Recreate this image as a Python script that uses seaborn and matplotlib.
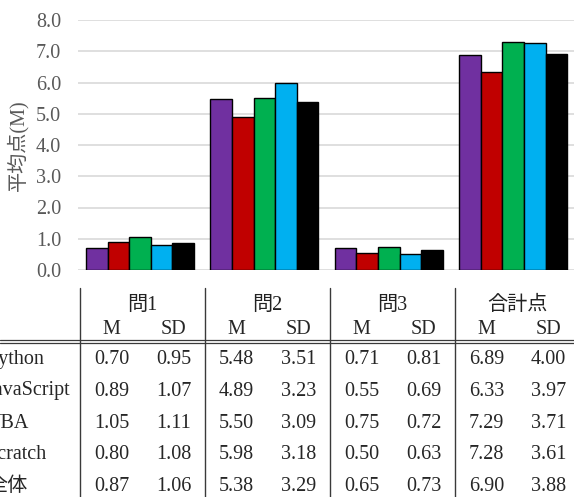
import matplotlib
matplotlib.use("Agg")
import matplotlib.pyplot as plt
import pandas as pd
import seaborn as sns
from matplotlib.lines import Line2D

groups = ['問1', '問2', '問3', '合計点']
langs = ['Python', 'JavaScript', 'VBA', 'Scratch', '全体']
colors = ['#7030A0', '#C00000', '#00B050', '#00B0F0', '#000000']

mean_q1 = [0.70, 0.89, 1.05, 0.80, 0.87]
sd_q1 = [0.95, 1.07, 1.11, 1.08, 1.06]
mean_q2 = [5.48, 4.89, 5.50, 5.98, 5.38]
sd_q2 = [3.51, 3.23, 3.09, 3.18, 3.29]
mean_q3 = [0.71, 0.55, 0.75, 0.50, 0.65]
sd_q3 = [0.81, 0.69, 0.72, 0.63, 0.73]
mean_total = [6.89, 6.33, 7.29, 7.28, 6.90]
sd_total = [4.00, 3.97, 3.71, 3.61, 3.88]

means = [mean_q1, mean_q2, mean_q3, mean_total]
sds = [sd_q1, sd_q2, sd_q3, sd_total]

sns.set_style("white")
plt.rcParams['font.family'] = ['Liberation Serif', 'Noto Sans CJK JP']

W, H = 574, 497
fig = plt.figure(figsize=(W / 100, H / 100), dpi=100)


def fx(x):
    return x / W


def fy(y):
    return 1 - y / H


ax = fig.add_axes([fx(77.75), fy(270), 497.75 / W, 250 / H])

rows = []
for g, vals in zip(groups, means):
    for lang, v in zip(langs, vals):
        rows.append({'group': g, 'lang': lang, 'mean': v})
df = pd.DataFrame(rows)

sns.barplot(data=df, x='group', y='mean', hue='lang', palette=colors,
            saturation=1, width=0.867, gap=0, edgecolor='black', linewidth=1.0,
            legend=False, ax=ax, zorder=3)

ax.set_ylim(0, 8)
ax.set_xlim(-0.5, 3.5)
ax.set_yticks([0, 1, 2, 3, 4, 5, 6, 7, 8])
ax.set_yticklabels([f'{t:.1f}' for t in range(9)], color='#595959', fontsize=14.5)
ax.tick_params(axis='y', length=0, pad=12)
ax.set_xticks([])
ax.set_xlabel('')
ax.yaxis.grid(True, color='#D9D9D9', linewidth=1.2, zorder=0)
ax.set_axisbelow(True)
for s in ax.spines.values():
    s.set_visible(False)
ax.set_ylabel('平均点(M)', color='#595959', fontsize=14.5)
ax.yaxis.set_label_coords((28 - 77.75) / 497.75, 0.5)

# table under the chart
line_x = [79.5, 204.5, 329.5, 454.5]
for x in line_x:
    fig.add_artist(Line2D([fx(x), fx(x)], [fy(288), fy(497)], color='#3a3a3a', linewidth=1.0))
for y in [340, 342.5]:
    fig.add_artist(Line2D([0, 1], [fy(y), fy(y)], color='#3a3a3a', linewidth=0.9))

tsize = 14.5
for x, g in zip(line_x, groups):
    fig.text(fx(x + 63), fy(305), g, ha='center', va='center', fontsize=14.5, color='#222222')
    fig.text(fx(x + 32), fy(330), 'M', ha='center', va='center', fontsize=tsize)
    fig.text(fx(x + 94), fy(330), 'SD', ha='center', va='center', fontsize=tsize)

row_y = [359.5, 391, 423, 454.5, 486.5]
for i, (lang, y) in enumerate(zip(langs, row_y)):
    fig.text(fx(-13), fy(y), lang, ha='left', va='center', fontsize=tsize)
    for x, m, s in zip(line_x, means, sds):
        fig.text(fx(x + 32), fy(y), f'{m[i]:.2f}', ha='center', va='center', fontsize=tsize)
        fig.text(fx(x + 94), fy(y), f'{s[i]:.2f}', ha='center', va='center', fontsize=tsize)

fig.savefig('out.png', dpi=100)
